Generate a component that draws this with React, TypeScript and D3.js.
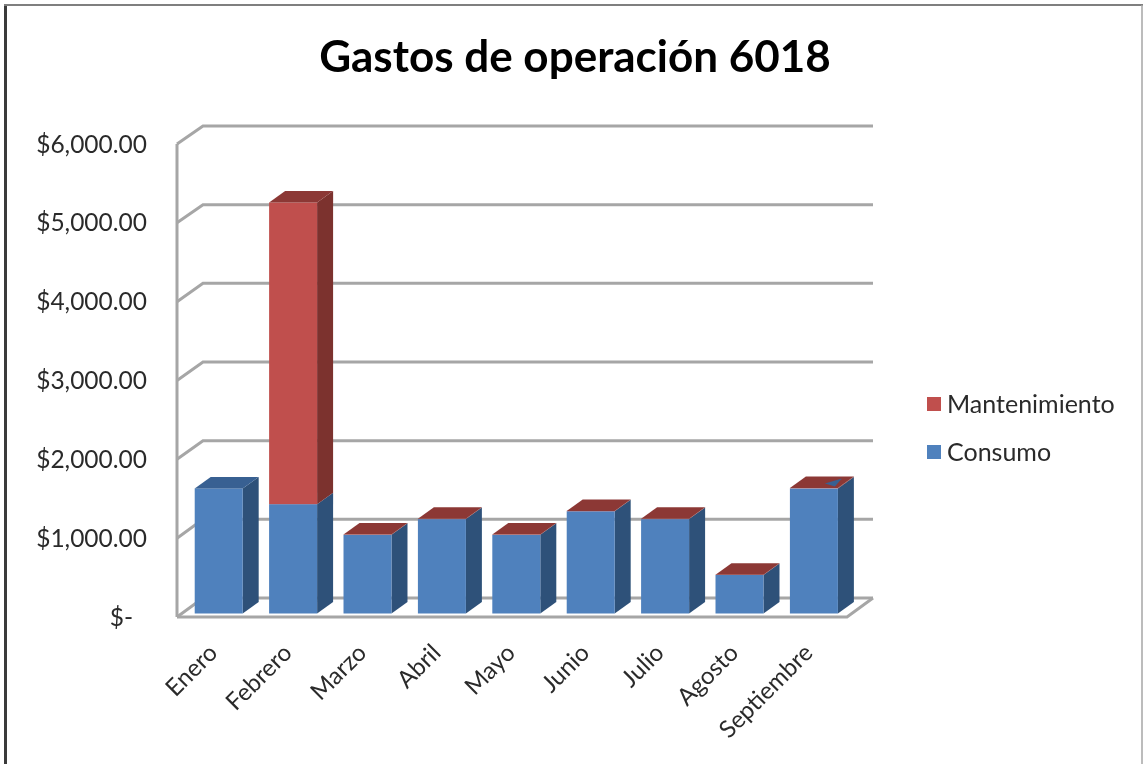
import React from "react";
import * as d3 from "d3";

const titleText = "Gastos de operación 6018";
const months = ["Enero", "Febrero", "Marzo", "Abril", "Mayo", "Junio", "Julio", "Agosto", "Septiembre"];
const consumo = [1590, 1390, 1000, 1200, 1000, 1300, 1200, 490, 1590];
const mantenimiento = [0, 3835, 4, 4, 4, 4, 4, 4, 4];
const yTicks = [0, 1000, 2000, 3000, 4000, 5000, 6000];
const yLabels = ["$-", "$1,000.00", "$2,000.00", "$3,000.00", "$4,000.00", "$5,000.00", "$6,000.00"];
const legendNames = ["Mantenimiento", "Consumo"];

const FONT = "Lato, Carlito, 'Open Sans', sans-serif";
const BLUE = { front: "#4f81bd", side: "#2f5179", top: "#376092" };
const RED = { front: "#c0504d", side: "#7b302e", top: "#8c3836" };
const GRID = "#a6a6a6";

const frontY = d3.scaleLinear().domain([0, 6000]).range([617, 144]);
const backY = d3.scaleLinear().domain([0, 6000]).range([598, 126]);
const barY = d3.scaleLinear().domain([0, 6000]).range([613.5, 141.5]);
const x = d3.scaleBand<string>().domain(months).range([181.5, 851.1]).paddingInner(0.355).paddingOuter(0.1775);

const WALL_DX = 26;
const BAR_DX = 16;
const BAR_DY = 11.5;
const LEFT = 177;
const RIGHT = 847;

const pts = (p: number[][]) => p.map((q) => q.join(",")).join(" ");

function Box({ bx, w, y0, y1, c, showTop }: { bx: number; w: number; y0: number; y1: number; c: typeof BLUE; showTop: boolean }) {
  return (
    <g>
      <polygon points={pts([[bx + w, y0], [bx + w + BAR_DX, y0 - BAR_DY], [bx + w + BAR_DX, y1 - BAR_DY], [bx + w, y1]])} fill={c.side} />
      <rect x={bx} y={y1} width={w} height={y0 - y1} fill={c.front} />
      {showTop && (
        <polygon points={pts([[bx, y1], [bx + BAR_DX, y1 - BAR_DY], [bx + w + BAR_DX, y1 - BAR_DY], [bx + w, y1]])} fill={c.top} />
      )}
    </g>
  );
}

export default function App() {
  const w = x.bandwidth();
  const lastX = x(months[months.length - 1])!;
  const lastTop = barY(consumo[consumo.length - 1]);
  return (
    <svg width={1143} height={764} style={{ position: "absolute", left: 0, top: 0, display: "block" }} fontFamily={FONT}>
      <defs>
        <filter id="soft" x="-5%" y="-5%" width="110%" height="110%">
          <feGaussianBlur stdDeviation="0.75" />
        </filter>
      </defs>
      <rect width={1143} height={764} fill="#fff" />
      <g filter="url(#soft)">
        <line x1={5.5} x2={5.5} y1={5} y2={764} stroke="#3a3a3a" strokeWidth={3} />
        <line x1={4} x2={1143} y1={5} y2={5} stroke="#7f7f7f" strokeWidth={2} />
        <line x1={1142} x2={1142} y1={5} y2={764} stroke="#a6a6a6" strokeWidth={1.5} />

        <g stroke={GRID} strokeWidth={3} fill="none">
          {yTicks.map((t) => (
            <polyline key={t} points={pts([[LEFT, frontY(t)], [LEFT + WALL_DX, backY(t)], [RIGHT + WALL_DX, backY(t)]])} />
          ))}
          <line x1={LEFT} x2={LEFT} y1={frontY(6000)} y2={frontY(0)} />
          <polyline points={pts([[LEFT, frontY(0)], [RIGHT, frontY(0)], [RIGHT + WALL_DX, backY(0)]])} />
        </g>

        {months.map((m, i) => {
          const bx = x(m)!;
          const yC = barY(consumo[i]);
          const yT = barY(consumo[i] + mantenimiento[i]);
          const hasM = mantenimiento[i] > 0;
          return (
            <g key={m}>
              <Box bx={bx} w={w} y0={barY(0)} y1={yC} c={BLUE} showTop={!hasM} />
              {hasM && <Box bx={bx} w={w} y0={yC} y1={yT} c={RED} showTop />}
            </g>
          );
        })}
        <polygon
          points={pts([[lastX + w - 13, lastTop - 5], [lastX + w + 4, lastTop - 10], [lastX + w - 3, lastTop - 2]])}
          fill={BLUE.top}
        />

        {yTicks.map((t, i) => (
          <text key={t} x={t === 0 ? 133 : 147} y={frontY(t) + 8.5} textAnchor="end" fontSize={24.5} fill="#2b2b2b">
            {yLabels[i]}
          </text>
        ))}

        {months.map((m) => (
          <text
            key={m}
            transform={`translate(${x(m)! + w / 2 - 4},${650}) rotate(-45)`}
            textAnchor="end"
            dominantBaseline="middle"
            fontSize={24}
            fill="#2b2b2b"
          >
            {m}
          </text>
        ))}

        <text x={575} y={72} textAnchor="middle" fontSize={44} fontWeight={700} fill="#000">
          {titleText}
        </text>

        {legendNames.map((n, i) => (
          <g key={n}>
            <rect x={927} y={397 + i * 48} width={14} height={14} fill={i === 0 ? RED.front : BLUE.front} />
            <text x={947} y={412.5 + i * 48} fontSize={25} fill="#2b2b2b">
              {n}
            </text>
          </g>
        ))}
      </g>
    </svg>
  );
}
